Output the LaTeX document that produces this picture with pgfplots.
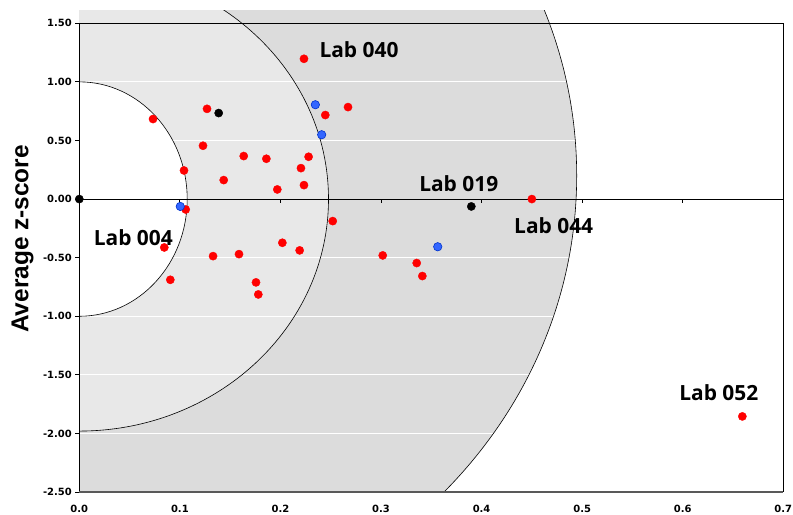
\documentclass[border=0pt]{standalone}
\usepackage{fontspec}
\setmainfont{Liberation Sans}
\newfontfamily\tickfont{DejaVu Sans}
\newfontfamily\labfont{Open Sans}
\usepackage{pgfplots}
\pgfplotsset{compat=1.18}
\definecolor{ringA}{RGB}{232,232,232}
\definecolor{ringB}{RGB}{220,220,220}
\definecolor{ptblue}{RGB}{51,102,255}
\definecolor{ptblueedge}{RGB}{0,51,204}
\begin{document}
\begin{tikzpicture}
\path[use as bounding box] (-79.3bp,-23bp) rectangle (713.7bp,492bp);
\begin{axis}[
  scale only axis, width=704bp, height=468.7bp,
  xmin=0, xmax=0.7, ymin=-2.5, ymax=1.5,
  clip=false,
  axis line style={draw=none},
  xtick={0,0.1,0.2,0.3,0.4,0.5,0.6,0.7},
  ytick={-2.5,-2,-1.5,-1,-0.5,0,0.5,1,1.5},
  xtick style={draw=none},
  ytick style={black, line width=0.8bp},
  ytick pos=left,
  xtick pos=bottom,
  tick align=outside, major tick length=4bp,
  /pgf/number format/fixed,
  /pgf/number format/fixed zerofill,
  /pgf/number format/assume math mode=true,
  tick label style={font=\tickfont\bfseries\fontsize{10}{12}\selectfont},
  x tick label style={/pgf/number format/precision=1, yshift=-6bp},
  y tick label style={/pgf/number format/precision=2},
]
\begin{scope}
\clip (axis cs:0,-2.5) rectangle (axis cs:0.7,1.613);
\fill[ringB] (axis cs:0,0.2) ellipse [x radius=497.4bp, y radius=465.3bp];
\fill[ringA] (axis cs:0,0) ellipse [x radius=249.2bp, y radius=232bp];
\fill[white] (axis cs:0,0) ellipse [x radius=107.9bp, y radius=117.2bp];
\draw[white, line width=0.8bp] (axis cs:0,1) -- (axis cs:0.7,1);
\draw[white, line width=0.8bp] (axis cs:0,0.5) -- (axis cs:0.7,0.5);
\draw[white, line width=0.8bp] (axis cs:0,-0.5) -- (axis cs:0.7,-0.5);
\draw[white, line width=0.8bp] (axis cs:0,-1) -- (axis cs:0.7,-1);
\draw[white, line width=0.8bp] (axis cs:0,-1.5) -- (axis cs:0.7,-1.5);
\draw[white, line width=0.8bp] (axis cs:0,-2) -- (axis cs:0.7,-2);
\draw[black, line width=0.6bp] (axis cs:0,0.2) ellipse [x radius=497.4bp, y radius=465.3bp];
\draw[black, line width=0.6bp] (axis cs:0,0) ellipse [x radius=249.2bp, y radius=232bp];
\draw[black, line width=0.6bp] (axis cs:0,0) ellipse [x radius=107.9bp, y radius=117.2bp];
\end{scope}
% frame
\draw[black, line width=0.8bp] (axis cs:0,-2.5) -- (axis cs:0,1.5) -- (axis cs:0.7,1.5) -- (axis cs:0.7,-2.5);
\draw[black!65, line width=1.2bp] (axis cs:0,-2.5) -- (axis cs:0.7,-2.5);
% x axis at zero
\draw[black, line width=0.8bp] (axis cs:0,0) -- (axis cs:0.7,0);
\draw[black, line width=0.8bp] (axis cs:0.1,0) -- ([yshift=-4bp]axis cs:0.1,0);
\draw[black, line width=0.8bp] (axis cs:0.2,0) -- ([yshift=-4bp]axis cs:0.2,0);
\draw[black, line width=0.8bp] (axis cs:0.3,0) -- ([yshift=-4bp]axis cs:0.3,0);
\draw[black, line width=0.8bp] (axis cs:0.4,0) -- ([yshift=-4bp]axis cs:0.4,0);
\draw[black, line width=0.8bp] (axis cs:0.5,0) -- ([yshift=-4bp]axis cs:0.5,0);
\draw[black, line width=0.8bp] (axis cs:0.6,0) -- ([yshift=-4bp]axis cs:0.6,0);
% data
\addplot[only marks, mark=*, mark size=4.1bp, mark options={fill=red, draw=red}] coordinates {
(0.2234,1.197) (0.0733,0.683) (0.127,0.770) (0.2446,0.717) (0.2672,0.785)
(0.123,0.455) (0.1635,0.367) (0.186,0.344) (0.228,0.361) (0.2204,0.264)
(0.1041,0.244) (0.1436,0.162) (0.1969,0.082) (0.2234,0.119) (0.1058,-0.089)
(0.252,-0.188) (0.0845,-0.413) (0.2019,-0.373) (0.2191,-0.438) (0.133,-0.487)
(0.1588,-0.470) (0.3017,-0.481) (0.0905,-0.689) (0.1757,-0.711) (0.178,-0.814)
(0.3355,-0.546) (0.3411,-0.657) (0.6593,-1.855) (0.450,0.000)
};
\addplot[only marks, mark=*, mark size=4.2bp, mark options={fill=ptblue, draw=ptblueedge, line width=0.6bp}] coordinates {
(0.2347,0.805) (0.241,0.549) (0.1004,-0.063) (0.3564,-0.407)
};
\addplot[only marks, mark=*, mark size=4.1bp, mark options={fill=black, draw=black}] coordinates {
(0.1386,0.734) (0,0) (0.3898,-0.063)
};
% labels
\begin{scope}[every node/.style={font=\labfont\bfseries\fontsize{21}{24}\selectfont, inner sep=0pt}]
\node at (axis cs:0.2781,1.274) {Lab 040};
\node at (axis cs:0.0537,-0.326) {Lab 004};
\node at (axis cs:0.3773,0.135) {Lab 019};
\node at (axis cs:0.4717,-0.228) {Lab 044};
\node at (axis cs:0.6359,-1.653) {Lab 052};
\end{scope}
\node[rotate=90, font=\bfseries\fontsize{24.5}{28}\selectfont, inner sep=0pt] at ([xshift=-56.8bp]axis cs:0,-0.34) {Average z-score};
\end{axis}
\end{tikzpicture}
\end{document}
